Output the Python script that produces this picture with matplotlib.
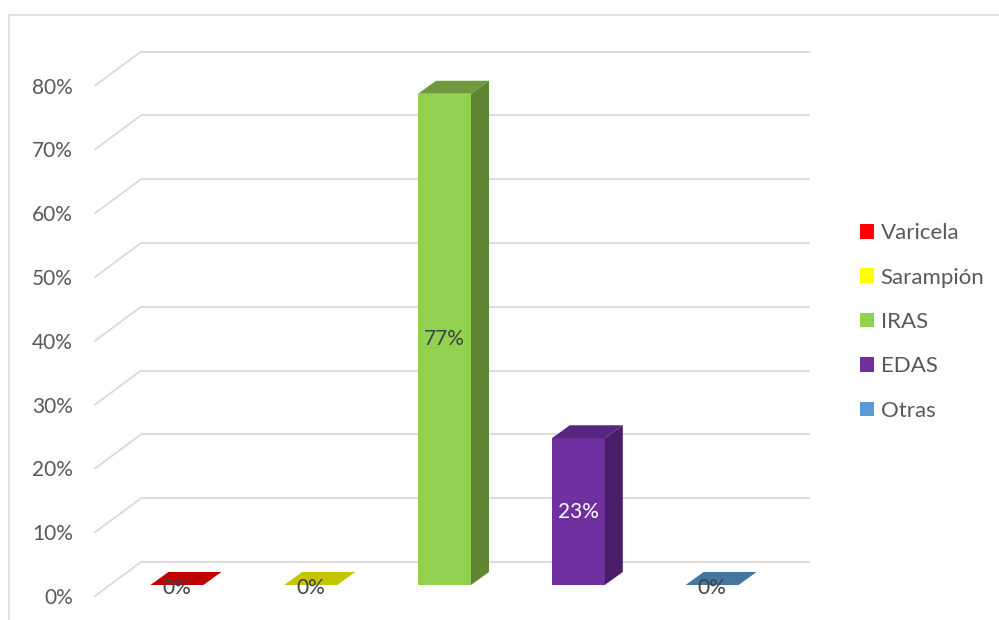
import matplotlib
matplotlib.use("Agg")
import matplotlib.pyplot as plt
from matplotlib.patches import Rectangle, Polygon, Patch

plt.rcParams['font.family'] = ['Lato', 'DejaVu Sans']

# Data
categories = ["Varicela", "Sarampión", "IRAS", "EDAS", "Otras"]
values = [0, 0, 77, 23, 0]
value_labels = ["0%", "0%", "77%", "23%", "0%"]
y_ticks = [0, 10, 20, 30, 40, 50, 60, 70, 80]
y_tick_labels = ["0%", "10%", "20%", "30%", "40%", "50%", "60%", "70%", "80%"]

# Styling
legend_colors = ["#ff0000", "#ffff00", "#92d050", "#7030a0", "#5b9bd5"]
front_colors = ["#c00000", "#c4c400", "#92d050", "#7030a0", "#41719c"]
top_colors = ["#c00000", "#c4c400", "#6d9b3c", "#58257f", "#45769f"]
side_colors = ["#a00000", "#a0a000", "#5f8733", "#4a1e69", "#3a6488"]
label_colors = ["#404040", "#404040", "#404040", "#ffffff", "#404040"]
grid_color = "#d9d9d9"
text_color = "#595959"

W, H = 999, 620
fig = plt.figure(figsize=(W / 100, H / 100), dpi=100)
ax = fig.add_axes([110 / W, 35 / H, 669 / W, 510.4 / H])
ax.set_xlim(-0.5, 4.5)
ax.set_ylim(0, 80)
ax.axis("off")

# pixel size of one data unit
p = ax.transData.transform([(0, 0), (1, 1)])
ux, uy = p[1, 0] - p[0, 0], p[1, 1] - p[0, 1]


def off(dxp, dyp):
    return dxp / ux, dyp / uy


bx, by = off(31, 23)     # back wall offset
fx, fy = off(-15, -11)   # front edge of the side wall
dx, dy = off(18, 13)     # bar depth
bar_w = 53 / ux

# walls: back wall gridlines and side wall diagonals
for t, lab in zip(y_ticks, y_tick_labels):
    ax.plot([-0.5 + bx, 4.5 + bx], [t + by, t + by], color=grid_color,
            lw=1.3, clip_on=False, zorder=0, solid_capstyle="butt")
    ax.plot([-0.5 + fx, -0.5 + bx], [t + fy, t + by], color=grid_color,
            lw=1.3, clip_on=False, zorder=0)
    ax.text(-0.5 + fx - 22 / ux, t + fy - 2 / uy, lab, ha="right", va="center",
            fontsize=15, color=text_color, clip_on=False)

# 3D-looking bars
for i, v in enumerate(values):
    x0, x1 = i - bar_w / 2, i + bar_w / 2
    if v > 0:
        ax.add_patch(Rectangle((x0, 0), bar_w, v, facecolor=front_colors[i],
                               edgecolor="none", zorder=3))
        ax.add_patch(Polygon([(x1, 0), (x1 + dx, dy), (x1 + dx, v + dy), (x1, v)],
                             closed=True, facecolor=side_colors[i],
                             edgecolor="none", zorder=3))
    ax.add_patch(Polygon([(x0, v), (x1, v), (x1 + dx, v + dy), (x0 + dx, v + dy)],
                         closed=True, facecolor=top_colors[i],
                         edgecolor="none", zorder=3))
    ly = v / 2 if v > 0 else -0.4
    ax.text(i, ly, value_labels[i], ha="center", va="center", fontsize=15,
            color=label_colors[i], zorder=5)

# legend
handles = [Patch(facecolor=c, edgecolor="none") for c in legend_colors]
fig.legend(handles, categories, loc="center left",
           bbox_to_anchor=(851 / W, 1 - 322 / H), frameon=False,
           borderaxespad=0, fontsize=16, handlelength=0.63, handleheight=0.63,
           handletextpad=0.3, labelspacing=1.1, labelcolor=text_color)

# chart area border
fig.add_artist(Rectangle((8.5 / W, -0.1), 1.2, (H - 15) / H + 0.1,
                         transform=fig.transFigure, fill=False,
                         edgecolor=grid_color, lw=1.1))

fig.savefig("out.png", dpi=100, facecolor="white")
